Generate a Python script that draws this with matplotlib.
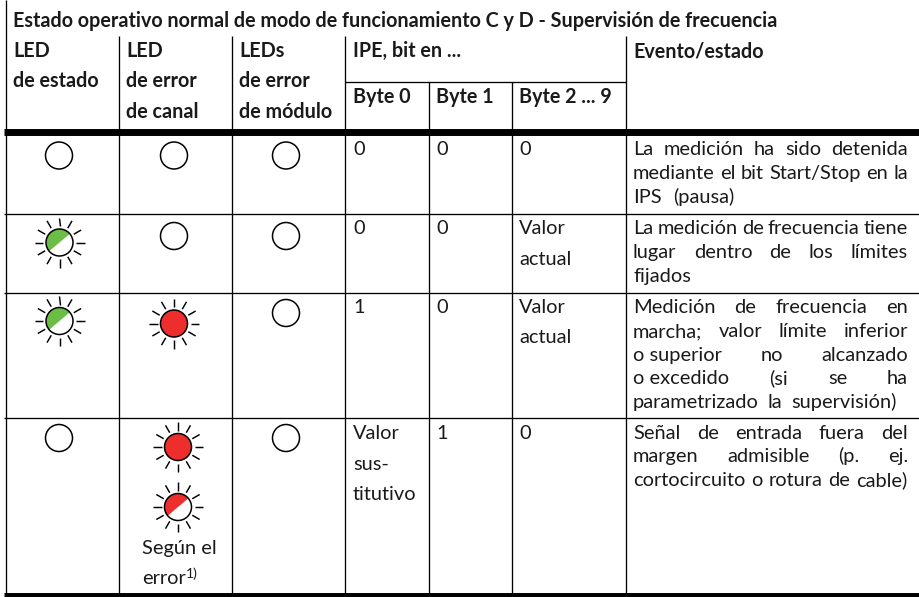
import math
import matplotlib
matplotlib.use('Agg')
import matplotlib.pyplot as plt
from matplotlib.patches import Circle, Wedge

plt.rcParams['font.family'] = ['Lato', 'DejaVu Sans']

W, H = 919, 597
BODY = 14.4
HEAD = 14.2
GREEN = '#6cbd45'
RED = '#ee2e2c'
INK = '#1a1a1a'

title = 'Estado operativo normal de modo de funcionamiento C y D - Supervisión de frecuencia'

# header text: (x, baseline, text)
headers = [
	(13, 57, 'LED'), (13, 87, 'de estado'),
	(126, 57, 'LED'), (126, 87, 'de error'), (126, 118, 'de canal'),
	(239, 57, 'LEDs'), (239, 87, 'de error'), (239, 118, 'de módulo'),
	(353, 57, 'IPE, bit en ...'),
	(353, 103, 'Byte 0'), (436, 103, 'Byte 1'), (519, 103, 'Byte 2 ... 9'),
	(633, 57, 'Evento/estado'),
]

# cell contents, one row per table row
byte0 = [['0'], ['0'], ['1'], ['Valor', 'sus-', 'titutivo']]
byte1 = [['0'], ['0'], ['0'], ['1']]
byte2 = [['0'], ['Valor', 'actual'], ['Valor', 'actual'], ['0']]
events = [
	['La medición ha sido detenida', 'mediante el bit Start/Stop en la', 'IPS (pausa)'],
	['La medición de frecuencia tiene', 'lugar dentro de los límites', 'fijados'],
	['Medición de frecuencia en', 'marcha; valor límite inferior',
	 'o\u00a0superior no alcanzado', 'o\u00a0excedido (si se ha', 'parametrizado la supervisión)'],
	['Señal de entrada fuera del', 'margen admisible (p. ej.', 'cortocircuito o rotura de cable)'],
]

# led states: (x, y, colour, half filled, blinking)
leds = [
	(59, 155.5, None, False, False), (174, 155.5, None, False, False), (286, 155.5, None, False, False),
	(59.5, 242.5, GREEN, True, True), (174, 236, None, False, False), (286, 236, None, False, False),
	(59.5, 321, GREEN, True, True), (174, 323.5, RED, False, True), (286, 313, None, False, False),
	(59, 438, None, False, False), (178, 447, RED, False, True), (178, 507, RED, True, True),
	(286, 438, None, False, False),
]

# layout, pixels
col_x = [5.5, 118.5, 231.5, 344.5, 428.5, 511.7, 625.7]
row_y = [213.5, 292.5, 417.5]
value_base = [[155], [234, 265], [313, 343], [439, 470, 500]]
event_base = [[155, 179, 203], [234, 258, 282], [313, 337, 361, 384, 408], [439, 462, 486]]
last_end = [734, 692, 897, 907]
byte_x = [353, 436, 519]
event_x0, event_x1 = 633, 908

fig = plt.figure(figsize=(W / 100, H / 100), dpi=100)
ax = fig.add_axes([0, 0, 1, 1])
ax.set_xlim(0, W)
ax.set_ylim(H, 0)
ax.axis('off')


def line(x, y, lw=0.95):
	ax.plot(x, y, color='black', lw=lw, solid_capstyle='butt', zorder=2)


def draw_grid():
	line([col_x[0], col_x[0]], [0, 594])
	for x in col_x[1:]:
		top = 82 if x in (col_x[4], col_x[5]) else 36
		line([x, x], [top, 594])
	line([344.5, 625.7], [82.3, 82.3])
	line([4, W], [131.5, 131.5], lw=5)
	line([4, W], [595.5, 595.5], lw=5)
	for y in row_y:
		line([4, W], [y, y])


def draw_led(x, y, color, half, blink):
	r = 13.5
	if color is not None and half:
		ax.add_patch(Wedge((x, y), r, -220, -40, fc=color, ec='none', zorder=3))
	elif color is not None:
		ax.add_patch(Circle((x, y), r, fc=color, ec='none', zorder=3))
	ax.add_patch(Circle((x, y), r, fc='none', ec='black', lw=1.1, zorder=4))
	if blink:
		for i in range(12):
			a = math.radians(i * 30)
			line([x + 16.5 * math.cos(a), x + 25 * math.cos(a)],
				[y + 16.5 * math.sin(a), y + 25 * math.sin(a)], lw=1.05)


def put(x, y, s, weight='normal', size=BODY):
	return ax.text(x, y, s, fontsize=size, fontweight=weight, color=INK, ha='left', va='baseline')


def justified(y, s, end):
	words = s.split(' ')
	items = [put(event_x0, y, w) for w in words]
	if len(words) == 1:
		return
	r = fig.canvas.get_renderer()
	widths = [t.get_window_extent(r).width for t in items]
	gap = (end - event_x0 - sum(widths)) / (len(words) - 1)
	x = event_x0
	for t, w in zip(items, widths):
		t.set_x(x)
		x += w + gap


draw_grid()
for led in leds:
	draw_led(*led)

put(13, 27, title, 'bold', HEAD)
for x, y, s in headers:
	put(x, y, s, 'bold', HEAD)

for i in range(4):
	for col, x in zip((byte0, byte1, byte2), byte_x):
		for s, y in zip(col[i], value_base[i]):
			put(x, y, s)
	ev = events[i]
	for j, (s, y) in enumerate(zip(ev, event_base[i])):
		justified(y, s, event_x1 if j < len(ev) - 1 else last_end[i])

put(142, 554, 'Según el')
put(142, 584, 'error')
put(185.5, 578, '1)', size=10)

fig.savefig('out.png', dpi=100)
